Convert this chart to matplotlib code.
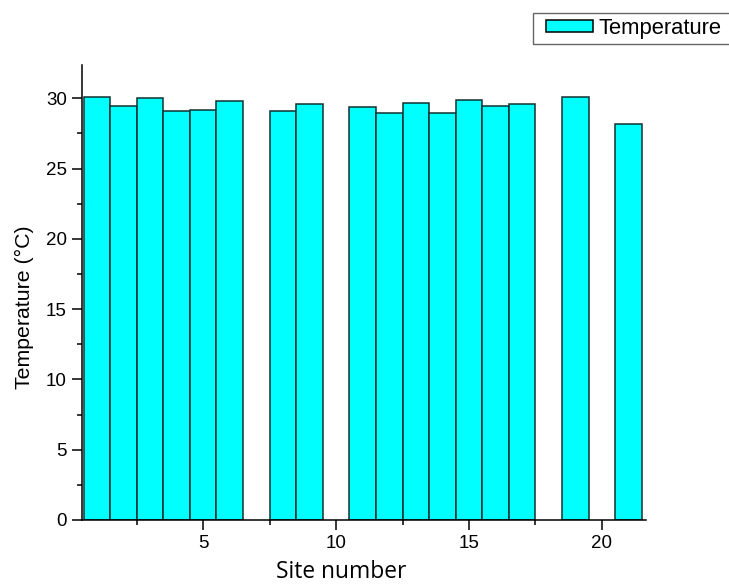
import matplotlib
matplotlib.use("Agg")
import matplotlib.pyplot as plt
from matplotlib.patches import Rectangle
from matplotlib.ticker import MultipleLocator

sites = [1, 2, 3, 4, 5, 6, 8, 9, 11, 12, 13, 14, 15, 16, 17, 19, 21]
temps = [30.06, 29.47, 29.99, 29.09, 29.18, 29.80, 29.09, 29.59,
         29.40, 28.97, 29.68, 28.97, 29.87, 29.47, 29.59, 30.11, 28.19]
series_name = "Temperature"

plt.rcParams['font.family'] = ['Liberation Sans', 'DejaVu Sans']

W, H = 729, 585
fig = plt.figure(figsize=(W / 100, H / 100), dpi=100)
ax = fig.add_axes([82 / W, 65 / H, (646 - 82) / W, (520 - 64.5) / H])

ax.bar(sites, temps, width=1.0, color='#00FFFF', edgecolor='#123030',
       linewidth=1.1, label=series_name)

ax.set_xlim(0.44, 21.66)
ax.set_ylim(0, 32.4)
ax.xaxis.set_major_locator(MultipleLocator(5))
ax.xaxis.set_minor_locator(MultipleLocator(2.5))
ax.yaxis.set_major_locator(MultipleLocator(5))
ax.yaxis.set_minor_locator(MultipleLocator(2.5))
ax.tick_params(which='major', direction='out', length=7, width=1.1,
               labelsize=13.5, pad=4)
ax.tick_params(which='minor', direction='out', length=3.8, width=1.1)
for s in ['top', 'right']:
    ax.spines[s].set_visible(False)
for s in ['left', 'bottom']:
    ax.spines[s].set_linewidth(1.1)

fig.text(24 / W, 1 - 307.5 / H, "Temperature (°C)", rotation=90,
         ha='center', va='center', fontsize=15.3)
fig.text(341 / W, 1 - 578.5 / H, "Site number", ha='center', va='baseline',
         fontsize=16.4, family=['Open Sans', 'DejaVu Sans'])

# legend frame (runs past the right edge, as in the reference)
fig.patches.append(Rectangle((533 / W, 1 - 43.5 / H), 220 / W, 30 / H,
                             transform=fig.transFigure, fill=False,
                             edgecolor='#666666', linewidth=1.0))
leg = fig.legend(loc='center left', bbox_to_anchor=(546 / W, 1 - 28.5 / H),
                 borderaxespad=0, borderpad=0, fontsize=15.8, frameon=False,
                 handlelength=2.15, handleheight=0.5, handletextpad=0.25)
for p in leg.get_patches():
    p.set_edgecolor('black')

fig.savefig("out.png", dpi=100)
